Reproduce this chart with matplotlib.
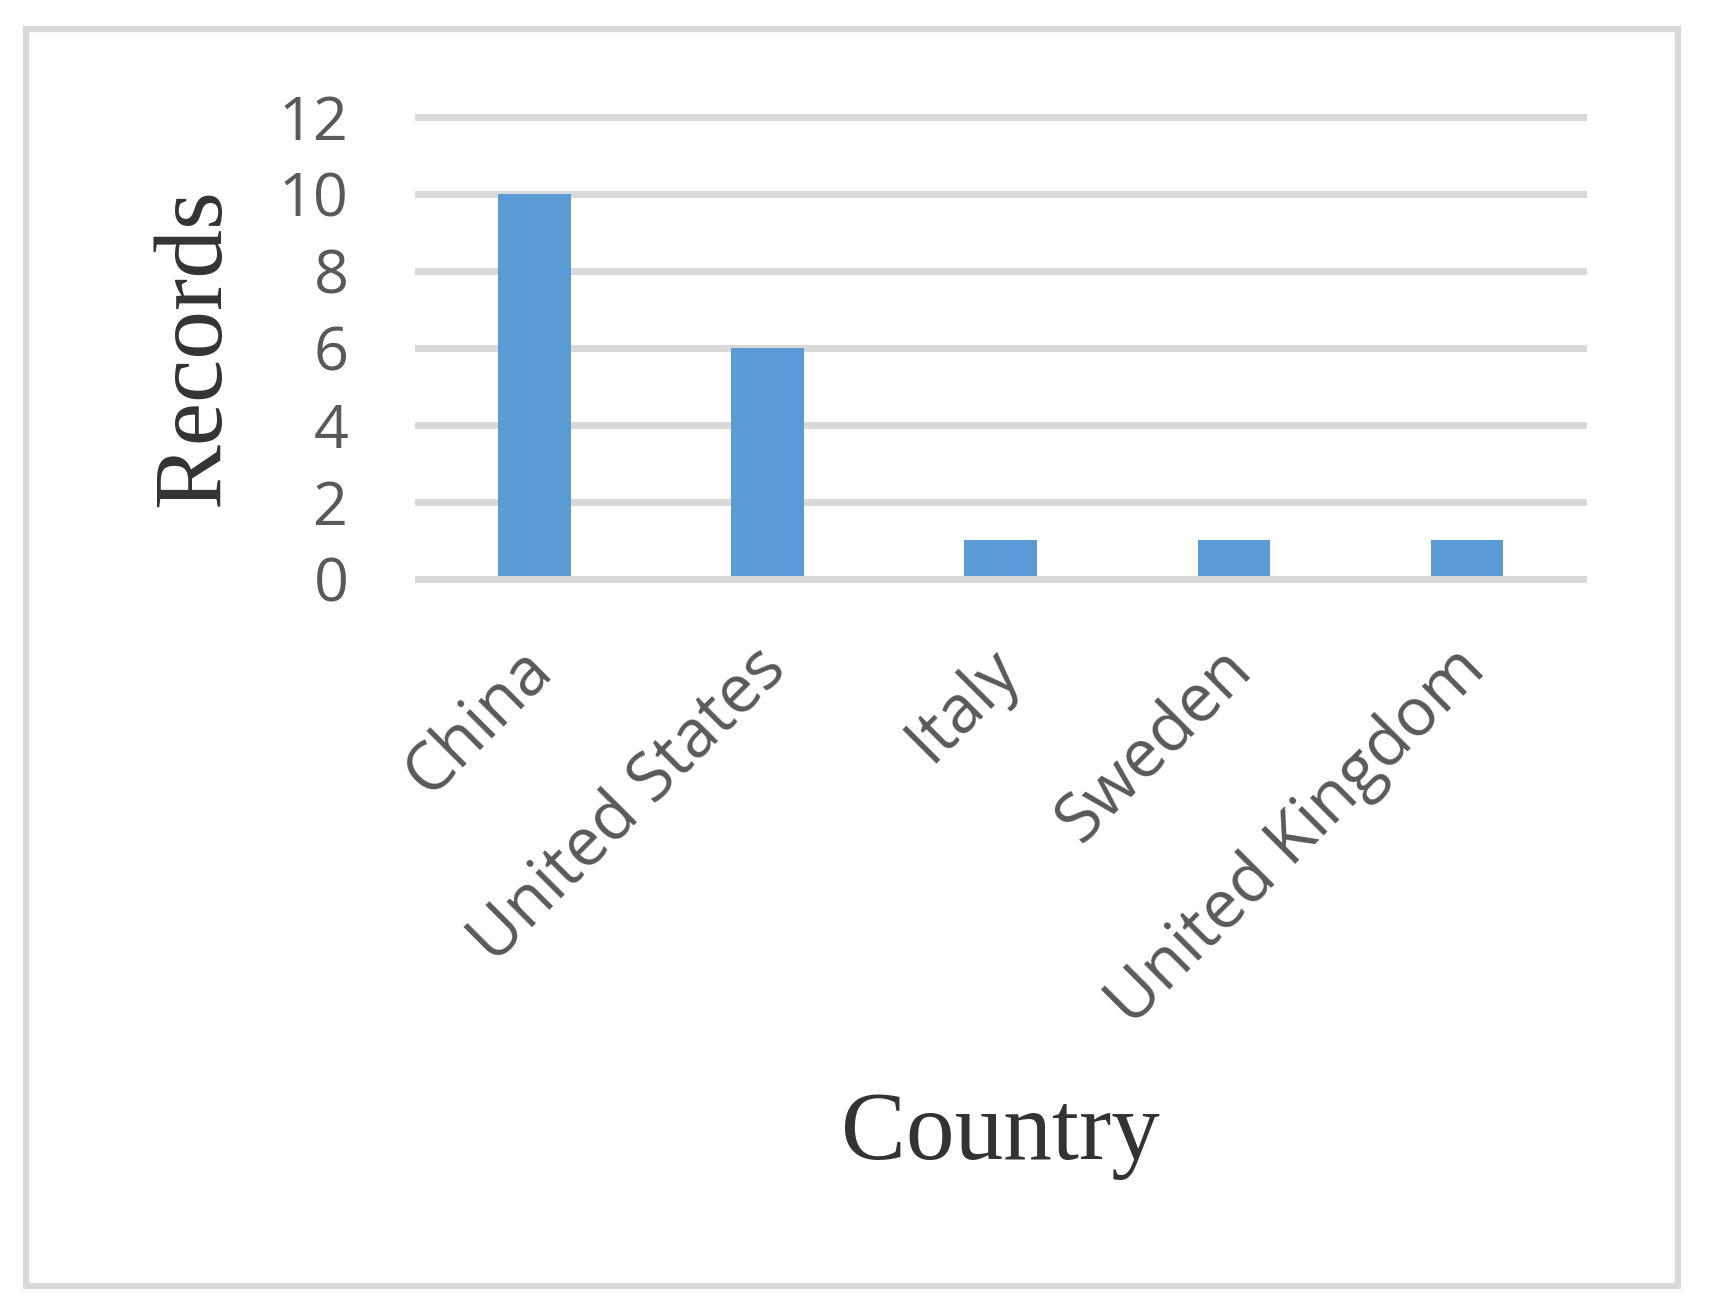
import matplotlib.pyplot as plt
from matplotlib.patches import Rectangle
from matplotlib.transforms import ScaledTranslation

countries = ["China", "United States", "Italy", "Sweden", "United Kingdom"]
records = [10, 6, 1, 1, 1]
y_ticks = [0, 2, 4, 6, 8, 10, 12]

bar_color = "#5B9BD5"
grid_color = "#D9D9D9"
tick_color = "#595959"
label_color = "#333333"

fig = plt.figure(figsize=(17.09, 13.11), dpi=100)
ax = fig.add_axes([0.2445, 0.5586, 0.682, 0.3525])

x = range(len(countries))
ax.bar(x, records, width=0.31, color=bar_color, zorder=2)

ax.set_xlim(-0.5, len(countries) - 0.5)
ax.set_ylim(0, 12)
ax.set_yticks(y_ticks)
ax.set_xticks(list(x))
ax.set_xticklabels(countries)

# gridlines behind the bars, axis line on top
ax.set_axisbelow(True)
ax.yaxis.grid(True, color=grid_color, linewidth=5)
for gl in ax.get_ygridlines():
    gl.set_clip_on(False)
ax.axhline(0, color=grid_color, linewidth=5, zorder=3, clip_on=False)

for s in ax.spines.values():
    s.set_visible(False)

ax.tick_params(axis="y", length=0, pad=50, labelsize=44, labelcolor=tick_color)
ax.tick_params(axis="x", length=0, pad=58, labelsize=48, labelcolor=tick_color)
for t in ax.get_yticklabels():
    t.set_fontfamily("Open Sans")
shift = ScaledTranslation(6 / 72, 0, fig.dpi_scale_trans)
for t in ax.get_xticklabels():
    t.set_fontfamily("Open Sans")
    t.set_rotation(45)
    t.set_rotation_mode("anchor")
    t.set_ha("right")
    t.set_va("center")
    t.set_transform(t.get_transform() + shift)

ax.set_ylabel("Records", fontfamily="Liberation Serif", fontsize=70, color=label_color, va="center")
ax.yaxis.set_label_coords(-0.19, 0.5)
ax.set_xlabel("Country", fontfamily="Liberation Serif", fontsize=70, color=label_color, va="baseline")
ax.xaxis.set_label_coords(0.5, -1.256)

# outer chart border
fig.patches.append(Rectangle((26 / 1709, 1 - 1286 / 1311), (1678 - 26) / 1709, (1286 - 29) / 1311,
                             transform=fig.transFigure, fill=False,
                             edgecolor=grid_color, linewidth=4.5))

fig.savefig("out.png", dpi=100)
